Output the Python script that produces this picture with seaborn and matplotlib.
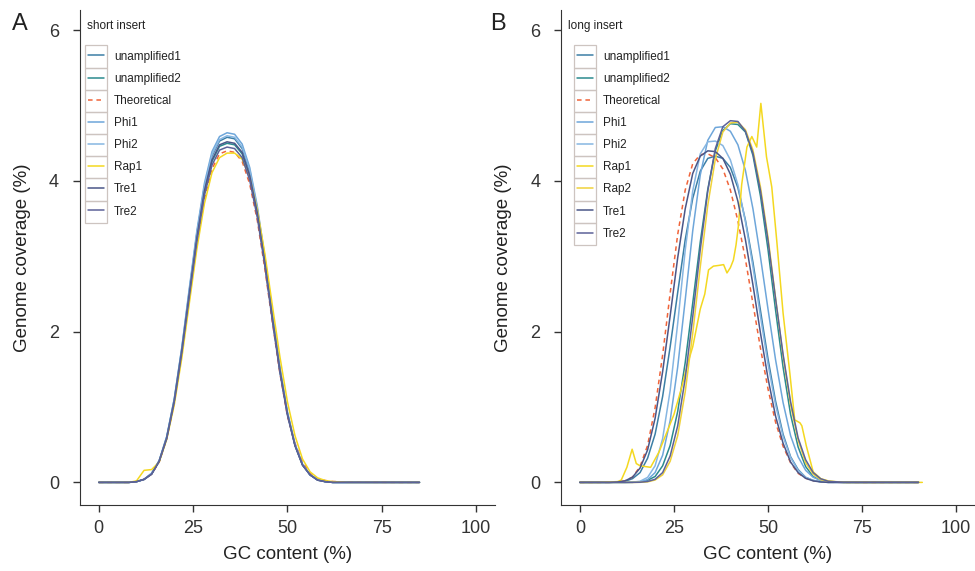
import numpy as np
import pandas as pd
import matplotlib
matplotlib.use("Agg")
import matplotlib.pyplot as plt
from matplotlib.patches import Rectangle
import seaborn as sns

# ---- data ----
# short insert panel: common GC grid
gc_short = [0, 4, 8, 10, 12, 14, 16, 18, 20, 22, 24, 26, 28, 30, 32, 34, 36, 38, 40,
            42, 44, 46, 48, 50, 52, 54, 56, 58, 60, 62, 66, 70, 75, 80, 85]
short_unamp1 = [0, 0, 0, 0.01, 0.04, 0.12, 0.28, 0.60, 1.10, 1.77, 2.54, 3.30, 3.92, 4.33, 4.53, 4.58, 4.56, 4.43,
                4.13, 3.62, 2.96, 2.22, 1.51, 0.92, 0.50, 0.24, 0.10, 0.04, 0.01, 0, 0, 0, 0, 0, 0]
short_unamp2 = [0, 0, 0, 0.01, 0.04, 0.11, 0.28, 0.59, 1.08, 1.74, 2.50, 3.24, 3.85, 4.26, 4.46, 4.50, 4.48, 4.36,
                4.06, 3.56, 2.91, 2.18, 1.48, 0.91, 0.49, 0.23, 0.10, 0.03, 0.01, 0, 0, 0, 0, 0, 0]
short_theo = [0, 0, 0, 0.01, 0.04, 0.11, 0.27, 0.58, 1.05, 1.70, 2.44, 3.17, 3.76, 4.16, 4.36, 4.40, 4.38, 4.26,
              3.96, 3.48, 2.84, 2.13, 1.45, 0.88, 0.52, 0.27, 0.12, 0.05, 0.025, 0.012, 0.004, 0.002, 0.001, 0, 0]
short_phi1 = [0, 0, 0, 0.01, 0.04, 0.12, 0.29, 0.61, 1.11, 1.79, 2.58, 3.34, 3.97, 4.39, 4.59, 4.64, 4.62, 4.49,
              4.18, 3.67, 3.00, 2.25, 1.53, 0.93, 0.51, 0.24, 0.10, 0.04, 0.01, 0, 0, 0, 0, 0, 0]
short_phi2 = [0, 0, 0, 0.01, 0.04, 0.12, 0.29, 0.60, 1.10, 1.78, 2.55, 3.31, 3.93, 4.35, 4.55, 4.60, 4.58, 4.45,
              4.15, 3.64, 2.97, 2.23, 1.51, 0.93, 0.50, 0.24, 0.10, 0.04, 0.01, 0, 0, 0, 0, 0, 0]
short_rap1 = [0, 0, 0, 0.02, 0.16, 0.17, 0.27, 0.57, 1.03, 1.65, 2.38, 3.10, 3.70, 4.11, 4.31, 4.37, 4.37, 4.29,
              4.05, 3.62, 3.04, 2.35, 1.67, 1.07, 0.62, 0.31, 0.14, 0.06, 0.025, 0.01, 0, 0, 0, 0, 0]
short_tre1 = [0, 0, 0, 0.01, 0.04, 0.11, 0.28, 0.59, 1.08, 1.75, 2.51, 3.25, 3.87, 4.28, 4.48, 4.52, 4.50, 4.38,
              4.07, 3.58, 2.92, 2.19, 1.49, 0.91, 0.49, 0.23, 0.10, 0.03, 0.01, 0, 0, 0, 0, 0, 0]
short_tre2 = [0, 0, 0, 0.01, 0.04, 0.11, 0.28, 0.58, 1.07, 1.72, 2.47, 3.20, 3.81, 4.21, 4.41, 4.45, 4.43, 4.31,
              4.01, 3.52, 2.88, 2.15, 1.46, 0.89, 0.49, 0.23, 0.10, 0.03, 0.01, 0, 0, 0, 0, 0, 0]

# long insert panel: common GC grid
gc_long = [0, 4, 8, 10, 12, 14, 16, 18, 20, 22, 24, 26, 28, 30, 32, 34, 36, 38, 40,
           42, 44, 46, 48, 50, 52, 54, 56, 58, 60, 62, 64, 66, 70, 75, 80, 85, 90]
long_unamp1 = [0, 0, 0, 0.003, 0.014, 0.05, 0.13, 0.32, 0.64, 1.14, 1.80, 2.52, 3.22, 3.77, 4.13, 4.30, 4.33, 4.30, 4.18,
               3.91, 3.48, 2.92, 2.28, 1.64, 1.08, 0.64, 0.34, 0.17, 0.067, 0.026, 0.008, 0, 0, 0, 0, 0, 0]
long_unamp2 = [0, 0, 0, 0, 0, 0.001, 0.007, 0.028, 0.078, 0.22, 0.49, 0.94, 1.59, 2.38, 3.19, 3.89, 4.40, 4.67, 4.76,
               4.75, 4.65, 4.34, 3.80, 3.09, 2.29, 1.53, 0.90, 0.47, 0.21, 0.077, 0.027, 0.007, 0, 0, 0, 0, 0]
long_theo = [0, 0, 0, 0.005, 0.02, 0.07, 0.21, 0.49, 0.99, 1.69, 2.51, 3.29, 3.88, 4.23, 4.35, 4.36, 4.31, 4.16, 3.88,
             3.47, 2.96, 2.37, 1.78, 1.24, 0.80, 0.48, 0.26, 0.12, 0.056, 0.023, 0.007, 0.002, 0, 0, 0, 0, 0]
long_phi1 = [0, 0, 0, 0, 0, 0.001, 0.008, 0.036, 0.13, 0.36, 0.82, 1.53, 2.42, 3.34, 4.08, 4.54, 4.71, 4.72, 4.66,
             4.48, 4.14, 3.63, 2.99, 2.30, 1.63, 1.06, 0.62, 0.34, 0.16, 0.068, 0.025, 0.008, 0, 0, 0, 0, 0]
long_phi2 = [0, 0, 0, 0, 0, 0.003, 0.015, 0.066, 0.22, 0.58, 1.22, 2.11, 3.08, 3.87, 4.36, 4.52, 4.53, 4.47, 4.28,
             3.95, 3.46, 2.86, 2.20, 1.57, 1.03, 0.61, 0.33, 0.16, 0.067, 0.027, 0.008, 0, 0, 0, 0, 0, 0]
long_rap2 = [0, 0, 0, 0, 0, 0, 0.001, 0.007, 0.032, 0.10, 0.28, 0.62, 1.20, 1.98, 2.86, 3.68, 4.29, 4.65, 4.77,
             4.78, 4.68, 4.41, 3.92, 3.25, 2.45, 1.68, 1.03, 0.56, 0.26, 0.11, 0.036, 0.011, 0.001, 0, 0, 0, 0]
long_tre1 = [0, 0, 0, 0.005, 0.02, 0.07, 0.19, 0.43, 0.85, 1.47, 2.21, 2.98, 3.63, 4.10, 4.33, 4.40, 4.39, 4.30, 4.09,
             3.73, 3.22, 2.62, 1.98, 1.38, 0.88, 0.52, 0.27, 0.13, 0.054, 0.02, 0.006, 0, 0, 0, 0, 0, 0]
long_tre2 = [0, 0, 0, 0, 0, 0, 0.002, 0.012, 0.041, 0.13, 0.35, 0.75, 1.38, 2.20, 3.09, 3.87, 4.43, 4.72, 4.80,
             4.79, 4.66, 4.37, 3.87, 3.21, 2.44, 1.70, 1.07, 0.59, 0.30, 0.13, 0.048, 0.015, 0.001, 0, 0, 0, 0]
# the noisy Rap1 trace has its own x positions
gc_long_rap1 = [0, 5, 10, 11, 12.5, 13.9, 15, 16, 18.8, 21, 23, 25, 27, 28.5, 30, 32, 33.2, 34.2, 35.5, 37,
                38.2, 39.1, 40, 40.8, 41.5, 42.1, 43, 44.4, 45.7, 47, 48.1, 49.6, 51, 52.3, 54, 55.8, 57.1,
                58.5, 59, 60.2, 62, 64, 66, 70, 80, 91]
long_rap1 = [0, 0, 0.01, 0.03, 0.20, 0.44, 0.25, 0.22, 0.20, 0.40, 0.65, 0.90, 1.25, 1.55, 1.80, 2.30, 2.50, 2.82,
             2.87, 2.88, 2.89, 2.78, 2.85, 2.95, 3.15, 3.39, 3.95, 4.45, 4.59, 4.45, 5.03, 4.32, 3.92, 3.22,
             2.25, 1.45, 0.83, 0.79, 0.75, 0.48, 0.14, 0.05, 0.02, 0, 0, 0]

colors = {
    "unamplified1": "#3c7fa6",
    "unamplified2": "#2b8a8e",
    "Theoretical": "#f0643a",
    "Phi1": "#6ea6da",
    "Phi2": "#86b6e2",
    "Rap1": "#f4d820",
    "Rap2": "#f0d23a",
    "Tre1": "#4a5688",
    "Tre2": "#5c6298",
}

short_series = [("unamplified1", gc_short, short_unamp1), ("unamplified2", gc_short, short_unamp2),
                ("Theoretical", gc_short, short_theo), ("Phi1", gc_short, short_phi1),
                ("Phi2", gc_short, short_phi2), ("Rap1", gc_short, short_rap1),
                ("Tre1", gc_short, short_tre1), ("Tre2", gc_short, short_tre2)]
long_series = [("unamplified1", gc_long, long_unamp1), ("unamplified2", gc_long, long_unamp2),
               ("Theoretical", gc_long, long_theo), ("Phi1", gc_long, long_phi1),
               ("Phi2", gc_long, long_phi2), ("Rap1", gc_long_rap1, long_rap1),
               ("Rap2", gc_long, long_rap2), ("Tre1", gc_long, long_tre1), ("Tre2", gc_long, long_tre2)]

sns.set_style("ticks")
plt.rcParams["font.family"] = ["Liberation Sans", "DejaVu Sans"]
plt.rcParams["axes.edgecolor"] = "#333333"
plt.rcParams["xtick.color"] = "#333333"
plt.rcParams["ytick.color"] = "#333333"
plt.rcParams["text.color"] = "#222222"
plt.rcParams["axes.labelcolor"] = "#222222"

fig = plt.figure(figsize=(9.75, 5.71), dpi=100)
ax_a = fig.add_axes([0.082, 0.1156, 0.4256, 0.867])
ax_b = fig.add_axes([0.5754, 0.1156, 0.4246, 0.867])


def draw_panel(ax, series, title, legend_x):
    for name, x, y in series:
        df = pd.DataFrame({"gc": x, "cov": y})
        ls = (0, (3, 2.5)) if name == "Theoretical" else "-"
        sns.lineplot(data=df, x="gc", y="cov", ax=ax, color=colors[name], linewidth=1.1,
                     linestyle=ls, label=name, estimator=None, sort=False)
    ax.set_xlim(-5, 105)
    ax.set_ylim(-0.3, 6.27)
    ax.set_xticks([0, 25, 50, 75, 100])
    ax.set_yticks([0, 2, 4, 6])
    ax.tick_params(axis="both", labelsize=13, length=5, width=1)
    ax.tick_params(axis="y", pad=10)
    ax.tick_params(axis="x", pad=6)
    sns.despine(ax=ax)
    ax.set_xlabel("GC content (%)", fontsize=13.5)
    ax.set_ylabel("Genome coverage (%)", fontsize=13.5)
    ax.xaxis.set_label_coords(0.5, -0.083)
    ax.yaxis.set_label_coords(-0.118, 0.5)
    ax.text(0.017, 0.968, title, transform=ax.transAxes, fontsize=8.5, va="center", ha="left")
    leg = ax.legend(loc="upper left", bbox_to_anchor=(legend_x, 0.918), frameon=False, fontsize=8.5,
                    handlelength=1.35, handletextpad=0.85, labelspacing=0.86, borderpad=0,
                    borderaxespad=0)
    return leg


leg_a = draw_panel(ax_a, short_series, "short insert", 0.019)
leg_b = draw_panel(ax_b, long_series, "long insert", 0.039)

fig.text(0.012, 0.958, "A", fontsize=17, va="center", ha="left")
fig.text(0.503, 0.958, "B", fontsize=17, va="center", ha="left")

# boxed legend keys, like the original
fig.canvas.draw()
renderer = fig.canvas.get_renderer()
for leg in (leg_a, leg_b):
    texts = leg.get_texts()
    handles = leg.legend_handles
    centers = [(t.get_window_extent(renderer).y0 + t.get_window_extent(renderer).y1) / 2 for t in texts]
    step = abs(centers[0] - centers[1])
    for t, h, yc in zip(texts, handles, centers):
        hb = h.get_window_extent(renderer)
        x0, x1 = hb.x0 - 3, hb.x1 + 3
        (fx0, fy0), (fx1, fy1) = fig.transFigure.inverted().transform([(x0, yc - step / 2), (x1, yc + step / 2)])
        fig.add_artist(Rectangle((fx0, fy0), fx1 - fx0, fy1 - fy0, transform=fig.transFigure,
                                 fill=False, edgecolor="#cdc4c0", linewidth=0.9))

fig.savefig("out.png", dpi=100)
